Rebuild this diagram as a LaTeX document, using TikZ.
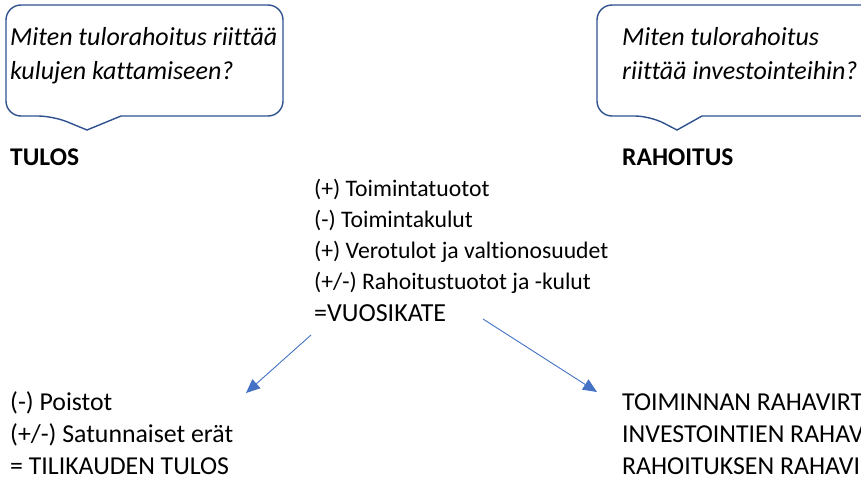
\documentclass[tikz,border=0pt]{standalone}
\usepackage{fontspec}
\setmainfont{Carlito}[Ligatures=NoCommon]
\usetikzlibrary{arrows.meta}
\definecolor{calloutblue}{HTML}{2F528F}
\definecolor{arrowblue}{HTML}{4472C4}
\begin{document}
\begin{tikzpicture}[x=1pt,y=-1pt,
  callout/.style={draw=calloutblue,line width=1.4pt,rounded corners=15pt,fill=white},
  qtext/.style={anchor=base west,inner sep=0pt,font=\fontsize{26}{30}\selectfont\itshape},
  head/.style={anchor=base west,inner sep=0pt,font=\fontsize{25.5}{30}\selectfont\bfseries},
  ltext/.style={anchor=base west,inner sep=0pt,font=\fontsize{23.7}{28}\selectfont},
  btext/.style={anchor=base west,inner sep=0pt,font=\fontsize{25.8}{30}\selectfont},
  arr/.style={draw=arrowblue,line width=0.9pt,-{Triangle[length=14pt,width=12pt]}}]
\useasboundingbox (0,0) rectangle (861,482);
% callout 1
\draw[callout] (53,116) [sharp corners]-- (87,130) -- (121,116) [rounded corners=15pt]-- (283,116) -- (283,5) -- (6,5) -- (6,116) -- cycle;
\node[qtext] (q1a) at (10,45) {Miten tulorahoitus riittää};
\node[qtext] (q1b) at (10,79) {kulujen kattamiseen?};
% callout 2
\draw[callout] (650,116) [sharp corners]-- (677,130) -- (702,116) [rounded corners=15pt]-- (880,116) -- (880,5) -- (597,5) -- (597,116) -- cycle;
\node[qtext] (q2a) at (622,45) {Miten tulorahoitus};
\node[qtext] (q2b) at (622,79) {riittää investointeihin?};
% headings
\node[head] (tulos) at (10,165) {TULOS};
\node[head] (rahoitus) at (622,165) {RAHOITUS};
% middle
\node[ltext] (m1) at (314,196) {(+) Toimintatuotot};
\node[ltext] (m2) at (314,227) {(-) Toimintakulut};
\node[ltext] (m3) at (314,258) {(+) Verotulot ja valtionosuudet};
\node[ltext] (m4) at (314,289) {(+/-) Rahoitustuotot ja -kulut};
\node[ltext,font=\fontsize{26}{30}\selectfont] (m5) at (314,321) {=VUOSIKATE};
% bottom left
\node[btext] (l1) at (10,410) {(-) Poistot};
\node[btext] (l2) at (10,442) {(+/-) Satunnaiset erät};
\node[btext] (l3) at (10,474) {= TILIKAUDEN TULOS};
% bottom right
\node[btext] (r1) at (622,410) {TOIMINNAN RAHAVIRTA};
\node[btext] (r2) at (622,442) {INVESTOINTIEN RAHAVIRTA};
\node[btext] (r3) at (622,474) {RAHOITUKSEN RAHAVIRTA};
% arrows
\coordinate (a1s) at (311,335);
\coordinate (a1e) at (246,393);
\coordinate (a2s) at (483,319);
\coordinate (a2e) at (597,392);
\draw[arr] (a1s) -- (a1e);
\draw[arr] (a2s) -- (a2e);
\end{tikzpicture}
\end{document}
